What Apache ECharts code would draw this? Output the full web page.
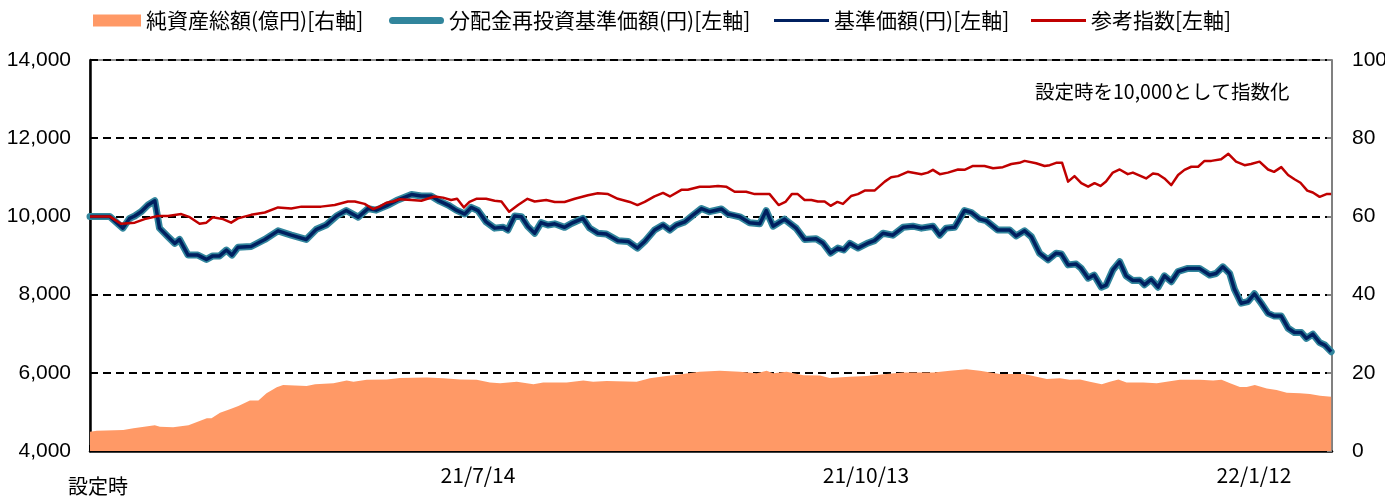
<!DOCTYPE html>
<html>
<head>
<meta charset="utf-8">
<script src="https://cdn.jsdelivr.net/npm/echarts@6/dist/echarts.min.js"></script>
<style>
  html, body { margin: 0; padding: 0; background: #fff; }
  #chart { width: 1385px; height: 498px; }
</style>
</head>
<body>
<div id="chart"></div>
<script>
// x = days since 設定時 (2021/4/14)
const xTickLabels = ['設定時', '21/7/14', '21/10/13', '22/1/12'];

const navDays = [0, 4.6, 7.7, 9.3, 10.5, 12.0, 13.6, 15.2, 16.3, 18.3, 19.9, 21.0, 23.0, 25.3, 27.3, 28.8, 30.4, 32.0, 33.3, 34.7,
  37.8, 41.0, 44.1, 47.2, 50.7, 53.1, 55.4, 57.8, 60.1, 62.9, 65.2, 67.1, 69.9, 72.2, 75.4, 77.7, 80.0, 82.0, 84.0, 85.9,
  87.9, 89.4, 91.0, 92.9, 94.9, 96.9, 98.0, 99.6, 101.2, 102.7, 104.3, 105.8, 107.4, 109.0, 111.3, 112.9, 115.6, 117.2, 119.1, 121.1,
  123.8, 126.2, 128.4, 130.1, 132.4, 134.4, 136.0, 137.5, 139.5, 141.4, 143.4, 145.3, 148.1, 149.6, 152.4, 154.7, 157.1, 158.6, 160.2, 162.9,
  165.6, 167.6, 170.3, 171.9, 173.7, 175.4, 176.8, 178.2, 180.1, 182.5, 184.0, 186.0, 188.3, 190.7, 193.0, 195.0, 197.7, 199.3, 200.8, 202.8,
  205.1, 206.7, 208.7, 210.2, 212.9, 215.7, 217.2, 219.2, 220.8, 222.7, 224.7, 226.6, 227.8, 229.4, 231.3, 232.5, 234.1, 235.5, 237.2, 238.3,
  239.9, 241.5, 243.0, 244.6, 246.2, 247.3, 248.9, 250.5, 252.0, 253.6, 255.2, 257.5, 260.2, 262.6, 264.1, 265.7, 267.3, 268.4, 270.0, 271.6,
  273.1, 274.7, 276.3, 277.8, 279.4, 281.0, 282.5, 284.1, 285.3, 286.8, 288.4, 289.6, 291.1];
const nav = [10000, 10000, 9700, 9950, 10010, 10120, 10290, 10400, 9700, 9480, 9310, 9410, 9010, 9010, 8900, 8990, 8990, 9140, 9010, 9210,
  9230, 9410, 9630, 9520, 9410, 9670, 9780, 10010, 10150, 9980, 10200, 10160, 10290, 10420, 10560, 10520, 10520, 10390, 10290, 10160,
  10060, 10230, 10150, 9860, 9700, 9720, 9650, 10010, 9990, 9740, 9570, 9840, 9780, 9810, 9720, 9820, 9950, 9700, 9570, 9550,
  9380, 9360, 9190, 9360, 9650, 9780, 9650, 9780, 9860, 10030, 10200, 10120, 10190, 10060, 9990, 9840, 9810, 10150, 9750, 9930,
  9700, 9410, 9430, 9320, 9060, 9190, 9140, 9310, 9190, 9320, 9380, 9570, 9520, 9720, 9750, 9700, 9750, 9520, 9700, 9720,
  10150, 10100, 9930, 9890, 9650, 9650, 9500, 9630, 9480, 9060, 8890, 9060, 9040, 8760, 8780, 8670, 8420, 8500, 8190, 8240,
  8630, 8840, 8480, 8360, 8370, 8250, 8390, 8190, 8480, 8330, 8590, 8670, 8670, 8500, 8540, 8710, 8540, 8140, 7780, 7820,
  8020, 7780, 7520, 7450, 7450, 7140, 7030, 7030, 6880, 6990, 6770, 6710, 6540];

const refDays = [0, 4.6, 7.3, 10.5, 12.8, 15.9, 18.3, 21.4, 23.4, 25.7, 27.3, 28.8, 31.2, 33.1, 34.7, 37.8, 41.0, 44.1, 47.2, 49.6,
  54.2, 57.4, 60.5, 62.1, 64.4, 66.4, 67.9, 69.5, 71.1, 72.6, 75.4, 77.7, 80.8, 82.8, 84.7, 86.1, 87.7, 89.0, 90.6, 92.9,
  94.9, 96.5, 98.3, 100.4, 102.6, 104.3, 107.0, 109.0, 111.3, 113.7, 116.8, 119.1, 121.5, 123.8, 126.6, 128.4, 130.1, 132.4, 134.4, 136.0,
  138.7, 140.2, 143.0, 145.3, 147.3, 149.2, 151.2, 153.9, 155.9, 159.4, 161.5, 163.1, 164.6, 166.0, 167.6, 169.2, 170.7, 172.3, 173.7, 175.3,
  176.6, 178.5, 180.1, 181.7, 184.0, 186.4, 187.9, 189.5, 191.8, 195.0, 196.5, 197.7, 199.3, 201.2, 203.6, 205.1, 207.1, 209.8, 211.8, 214.1,
  216.1, 218.0, 219.2, 221.9, 223.9, 225.1, 226.6, 228.0, 229.4, 230.9, 232.5, 234.1, 235.6, 237.0, 238.3, 239.9, 241.5, 243.4, 244.6, 247.7,
  249.3, 250.5, 252.0, 253.6, 255.2, 256.7, 258.3, 259.9, 261.4, 263.0, 265.3, 267.0, 268.8, 270.8, 272.3, 274.3, 276.3, 277.7, 279.4, 281.0,
  282.5, 283.9, 285.5, 286.8, 288.4, 290.0, 291.1];
const ref = [10000, 10000, 9810, 9840, 9930, 10010, 10010, 10060, 9980, 9810, 9840, 9980, 9930, 9840, 9950, 10040, 10100, 10230, 10200, 10250,
  10250, 10290, 10380, 10380, 10320, 10190, 10250, 10350, 10380, 10440, 10420, 10400, 10510, 10480, 10420, 10450, 10230, 10370, 10450, 10450,
  10400, 10380, 10120, 10290, 10450, 10380, 10420, 10370, 10370, 10450, 10540, 10590, 10570, 10450, 10370, 10290, 10370, 10510, 10600, 10510,
  10680, 10680, 10760, 10760, 10780, 10760, 10630, 10630, 10570, 10570, 10290, 10370, 10570, 10570, 10420, 10420, 10380, 10380, 10270, 10370,
  10320, 10520, 10570, 10660, 10660, 10890, 11000, 11030, 11140, 11080, 11120, 11190, 11080, 11120, 11200, 11190, 11290, 11290, 11230, 11260,
  11340, 11370, 11420, 11360, 11290, 11310, 11370, 11370, 10890, 11030, 10850, 10760, 10850, 10780, 10890, 11120, 11200, 11080, 11120, 10970,
  11100, 11080, 10970, 10800, 11060, 11190, 11270, 11270, 11420, 11420, 11460, 11600, 11400, 11310, 11340, 11400, 11200, 11140, 11260, 11060,
  10950, 10860, 10660, 10610, 10500, 10570, 10570];

const assetDays = [0, 1.6, 7.8, 10.2, 15.2, 16.4, 19.5, 23.1, 27.4, 28.5, 30.5, 32.8, 34.8, 37.5, 39.5, 41.4, 43.8, 45.3, 50.8, 52.8,
  57.1, 60.2, 61.8, 64.9, 69.6, 72.7, 79.0, 82.9, 86.8, 90.7, 93.8, 96.2, 100.1, 104.0, 106.3, 111.8, 115.7, 118.0, 121.2, 128.2,
  131.3, 135.2, 139.1, 143.0, 147.7, 152.4, 156.4, 158.7, 160.2, 163.4, 167.3, 171.2, 173.5, 178.2, 182.2, 186.8, 190.7, 197.8, 201.7, 205.6,
  208.7, 213.4, 218.9, 221.2, 224.4, 227.5, 229.8, 232.2, 234.5, 237.3, 239.2, 241.2, 243.1, 247.0, 250.2, 252.5, 255.6, 260.3, 263.4, 265.4,
  267.4, 269.7, 271.3, 273.2, 276.0, 278.3, 280.7, 283.8, 286.1, 288.5, 291.1];
const assets = [4.9, 5.2, 5.4, 5.8, 6.6, 6.2, 6.1, 6.6, 8.4, 8.4, 9.8, 10.7, 11.5, 12.9, 12.9, 14.8, 16.3, 16.9, 16.6, 17.1,
  17.3, 18.0, 17.7, 18.2, 18.3, 18.7, 18.8, 18.6, 18.3, 18.2, 17.5, 17.3, 17.7, 17.1, 17.5, 17.5, 18.0, 17.7, 17.9, 17.7,
  18.6, 19.2, 19.7, 20.3, 20.5, 20.3, 19.9, 20.5, 19.9, 20.3, 19.4, 19.3, 18.7, 19.0, 19.2, 19.7, 20.1, 20.1, 20.5, 20.9,
  20.5, 19.7, 19.7, 19.2, 18.4, 18.6, 18.2, 18.3, 17.7, 17.1, 17.7, 18.3, 17.5, 17.5, 17.3, 17.7, 18.2, 18.2, 18.0, 18.2,
  17.3, 16.4, 16.4, 16.9, 16.0, 15.6, 14.9, 14.8, 14.6, 14.1, 13.9];

const pairs = (xs, ys) => xs.map((x, i) => [x, ys[i]]);

const chart = echarts.init(document.getElementById('chart'));
const jp = '"Noto Sans CJK JP", sans-serif';
const num = '"Liberation Sans", Arial, sans-serif';
const legendText = { fontFamily: jp, fontSize: 21, color: '#000' };

// one legend per item so each can sit where the original puts it
function legendAt(left, name, icon, w, h) {
  return {
    left: left, top: 5, itemWidth: w, itemHeight: h, itemGap: 0,
    textStyle: legendText,
    data: [{ name: name, icon: icon }]
  };
}

chart.setOption({
  animation: false,
  legend: [
    legendAt(88, '純資産総額(億円)[右軸]', 'rect', 48, 12),
    legendAt(384, '分配金再投資基準価額(円)[左軸]', 'path://M3.5,0 L51.5,0 A3.5,3.5 0 0 1 51.5,7 L3.5,7 A3.5,3.5 0 0 1 3.5,0 Z', 55, 7),
    legendAt(769, '基準価額(円)[左軸]', 'rect', 55, 3),
    legendAt(1026, '参考指数[左軸]', 'rect', 55, 3)
  ],
  graphic: [{
    type: 'text',
    left: 1035,
    top: 82,
    style: { text: '設定時を10,000として指数化', font: '19.5px "Noto Sans CJK JP"', fill: '#000' }
  }],
  grid: {
    left: 90, right: 53, top: 60, bottom: 47,
    containLabel: false,
    outerBoundsMode: 'none',
    show: true, borderColor: '#222', borderWidth: 1
  },
  xAxis: {
    type: 'value',
    min: 0,
    max: 291.3,
    interval: 91,
    axisLine: { lineStyle: { color: '#000', width: 2.5 } },
    axisTick: { inside: true, length: 6, lineStyle: { color: '#000', width: 2 } },
    splitLine: { show: false },
    axisLabel: {
      margin: 14,
      showMaxLabel: false,
      fontFamily: jp,
      fontSize: 21,
      color: '#000',
      formatter: v => {
        const i = Math.round(v / 91);
        return i === 0 ? '{s|' + xTickLabels[0] + '}' : xTickLabels[i];
      },
      rich: { s: { fontFamily: jp, fontSize: 20, color: '#000', padding: [11, 0, 0, 16] } }
    }
  },
  yAxis: [{
    type: 'value',
    min: 4000,
    max: 14000,
    interval: 2000,
    axisLine: { show: true, lineStyle: { color: '#000', width: 2.5 } },
    axisTick: { show: false },
    splitLine: { lineStyle: { color: '#000', width: 2, type: [8, 5] } },
    axisLabel: {
      margin: 19,
      fontFamily: num,
      fontSize: 21,
      color: '#000',
      formatter: v => v.toLocaleString('en-US')
    }
  }, {
    type: 'value',
    min: 0,
    max: 100,
    interval: 20,
    position: 'right',
    axisLine: { show: true, lineStyle: { color: '#808080', width: 2 } },
    axisTick: { show: true, inside: true, length: 5, lineStyle: { color: '#808080', width: 2 } },
    splitLine: { show: false },
    axisLabel: { margin: 20, fontFamily: num, fontSize: 21, color: '#000' }
  }],
  series: [{
    name: '純資産総額(億円)[右軸]',
    type: 'line',
    yAxisIndex: 1,
    symbol: 'none',
    z: 1,
    lineStyle: { width: 0, color: '#FF9966' },
    itemStyle: { color: '#FF9966' },
    areaStyle: { color: '#FF9966', opacity: 1 },
    data: pairs(assetDays, assets)
  }, {
    name: '分配金再投資基準価額(円)[左軸]',
    type: 'line',
    symbol: 'none',
    z: 3,
    lineStyle: { width: 7, color: '#31859C', cap: 'round', join: 'round' },
    itemStyle: { color: '#31859C' },
    data: pairs(navDays, nav)
  }, {
    name: '基準価額(円)[左軸]',
    type: 'line',
    symbol: 'none',
    z: 4,
    lineStyle: { width: 3.5, color: '#002060', join: 'round' },
    itemStyle: { color: '#002060' },
    data: pairs(navDays, nav)
  }, {
    name: '参考指数[左軸]',
    type: 'line',
    symbol: 'none',
    z: 5,
    lineStyle: { width: 2.5, color: '#C00000', join: 'round' },
    itemStyle: { color: '#C00000' },
    data: pairs(refDays, ref)
  }]
});
</script>
</body>
</html>
